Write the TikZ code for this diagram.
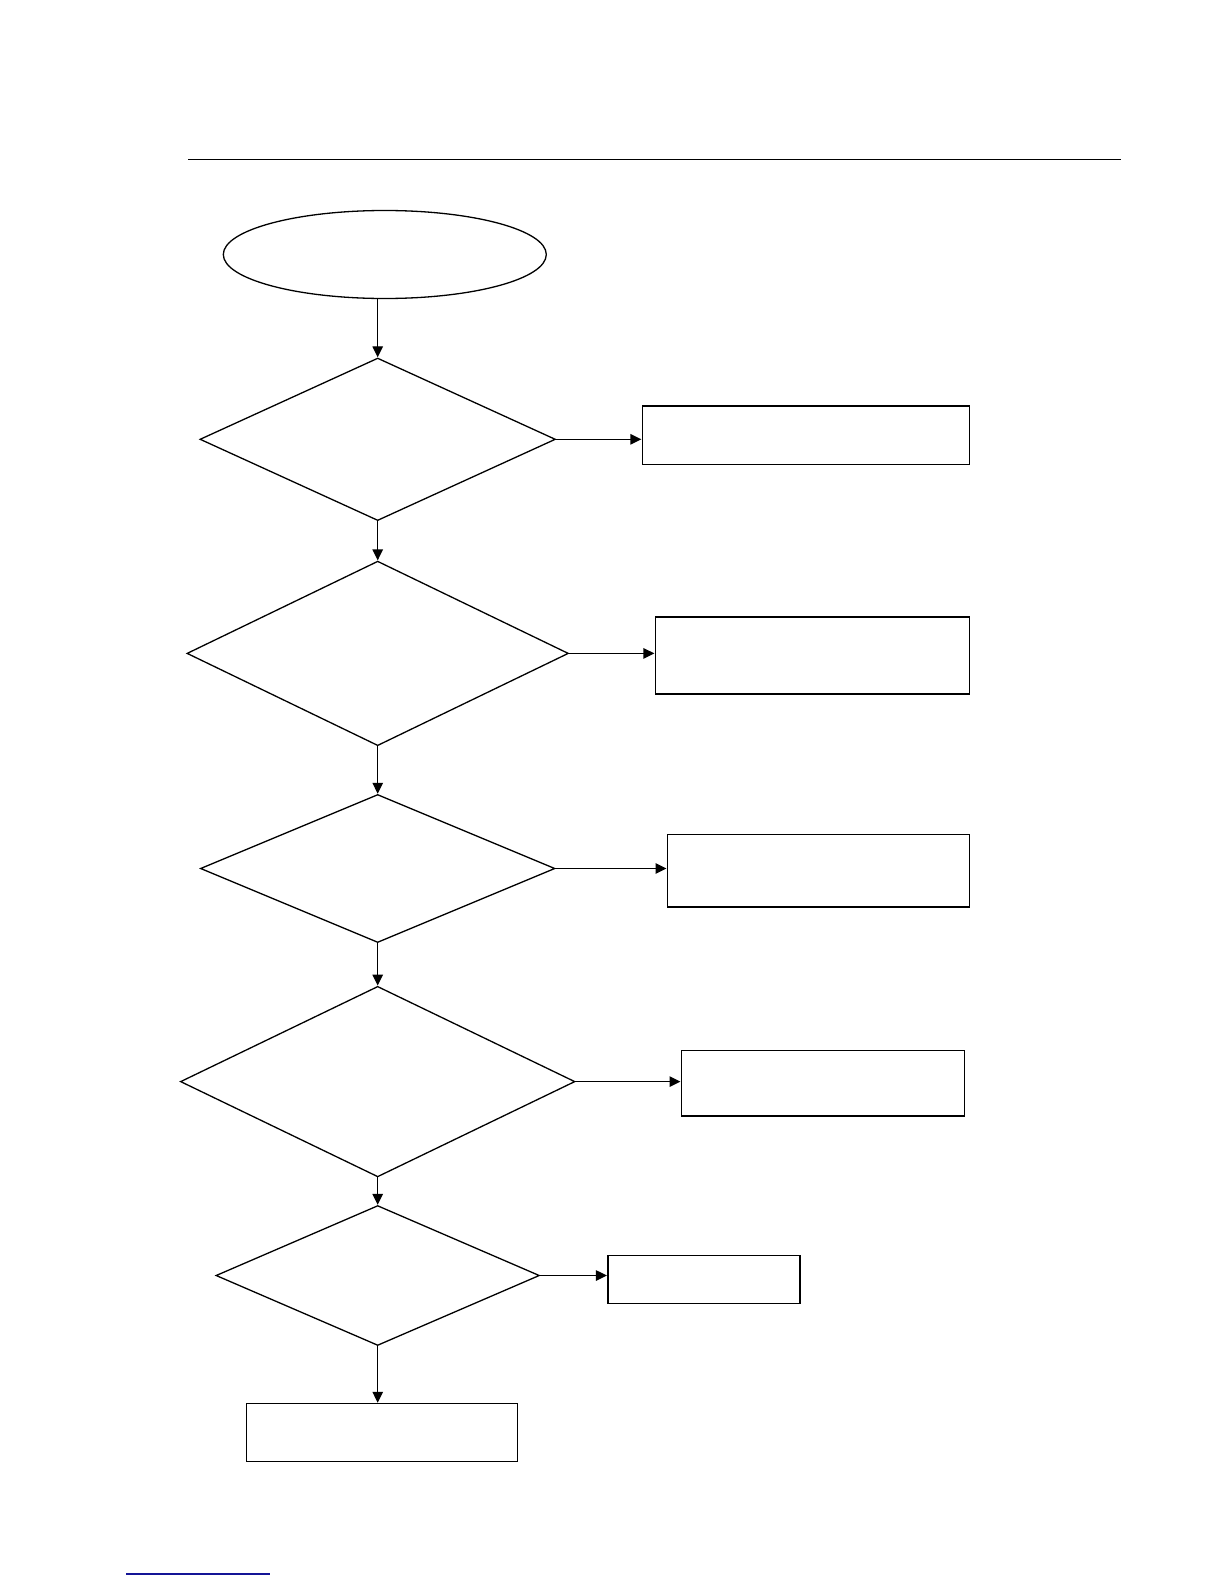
\documentclass[tikz,border=0pt]{standalone}
\usetikzlibrary{shapes.geometric,arrows.meta}
\definecolor{linkblue}{RGB}{20,20,150}
\begin{document}
\begin{tikzpicture}[x=1pt,y=-1pt,
  shp/.style={draw=black,line width=1.3pt,inner sep=0pt,outer sep=0pt},
  dia/.style={shp,diamond},
  box/.style={shp,rectangle},
  oval/.style={shp,ellipse},
  flow/.style={draw=black,line width=1.3pt,-{Triangle[length=11pt,width=10.5pt]},shorten >=1pt}]
\useasboundingbox (0,0) rectangle (1224,1584);
\fill[white] (0,0) rectangle (1224,1584);
% header rule
\coordinate (hl) at (188,159.5);
\coordinate (hr) at (1121,159.5);
\draw[line width=1.6pt] (hl) -- (hr);
% footer link underline
\coordinate (fl) at (126,1574);
\coordinate (fr) at (270,1574);
\draw[linkblue,line width=1.5pt] (fl) -- (fr);
% shapes
\node[oval,minimum width=323pt,minimum height=88pt] (e) at (384.8,254.5) {};
\node[dia,minimum width=355pt,minimum height=162pt] (d1) at (377.7,439.3) {};
\node[box,minimum width=327pt,minimum height=58.5pt] (b1) at (805.9,435.2) {};
\node[dia,minimum width=381pt,minimum height=184pt] (d2) at (377.7,653.4) {};
\node[box,minimum width=314pt,minimum height=77pt] (b2) at (812.4,655.4) {};
\node[dia,minimum width=354pt,minimum height=147.5pt] (d3) at (377.7,868.5) {};
\node[box,minimum width=302pt,minimum height=72.7pt] (b3) at (818.5,870.5) {};
\node[dia,minimum width=394pt,minimum height=190pt] (d4) at (377.7,1081.6) {};
\node[box,minimum width=283pt,minimum height=65.6pt] (b4) at (823,1083.1) {};
\node[dia,minimum width=323pt,minimum height=139.4pt] (d5) at (377.7,1275.5) {};
\node[box,minimum width=192pt,minimum height=48.5pt] (b5) at (703.9,1279.5) {};
\node[box,minimum width=271pt,minimum height=57.5pt] (b6) at (381.8,1432.5) {};
% connectors
\draw[flow] (d1.north |- e.south) -- (d1.north);
\draw[flow] (d1.east) -- (d1.east -| b1.west);
\draw[flow] (d1.south) -- (d2.north);
\draw[flow] (d2.east) -- (d2.east -| b2.west);
\draw[flow] (d2.south) -- (d3.north);
\draw[flow] (d3.east) -- (d3.east -| b3.west);
\draw[flow] (d3.south) -- (d4.north);
\draw[flow] (d4.east) -- (d4.east -| b4.west);
\draw[flow] (d4.south) -- (d5.north);
\draw[flow] (d5.east) -- (d5.east -| b5.west);
\draw[flow] (d5.south) -- (d5.south |- b6.north);
\end{tikzpicture}
\end{document}
